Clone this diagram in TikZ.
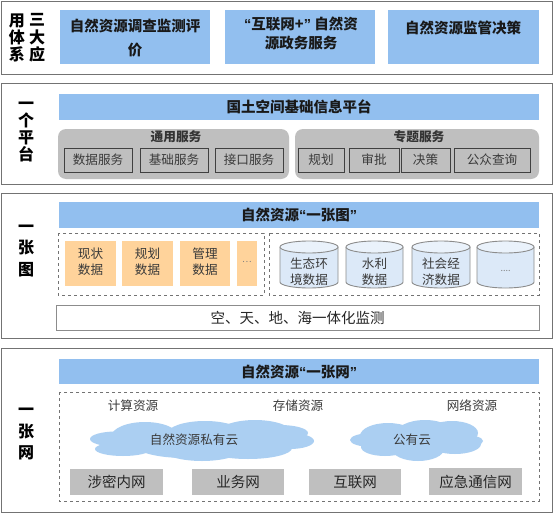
\documentclass[tikz,border=0pt]{standalone}
\usepackage{fontspec}
\setmainfont{Noto Sans CJK SC}
\newfontfamily\quotefont{Liberation Sans}
\usetikzlibrary{positioning}
\definecolor{barblue}{HTML}{92BFEF}
\definecolor{cloudblue}{HTML}{ABCFF2}
\definecolor{paleorange}{HTML}{FFD39B}
\definecolor{midgray}{HTML}{BFBFBF}
\definecolor{drumblue}{HTML}{DCE9F8}
\definecolor{inktext}{HTML}{3A3A3A}
\newcommand{\openq}{{\quotefont\bfseries “}}
\newcommand{\closeq}{{\quotefont\bfseries ”}}
\tikzset{
  panel/.style={draw=black!55, line width=0.9pt, fill=white},
  bluebar/.style={fill=barblue, draw=none},
  greypad/.style={fill=midgray, draw=none, rounded corners=8pt},
  svcbox/.style={fill=midgray, draw=black!75, line width=0.8pt},
  dashbox/.style={draw=black!55, line width=0.7pt, dashed},
  orangebox/.style={fill=paleorange, draw=none},
  netbox/.style={fill=midgray, draw=none},
  sidetext/.style={font=\fontsize{16}{17.3}\selectfont\bfseries, align=center, inner sep=0pt},
  widetext/.style={sidetext, font=\fontsize{16}{21.5}\selectfont\bfseries},
  titletext/.style={font=\fontsize{14.5}{19}\selectfont\bfseries, align=center, inner sep=0pt, text=black!90},
  subtext/.style={font=\fontsize{12.7}{16}\selectfont\bfseries, text=black!80, inner sep=0pt},
  smalltext/.style={font=\fontsize{12.6}{16}\selectfont, align=center, text=inktext, inner sep=0pt},
  nettext/.style={font=\fontsize{14.5}{18}\selectfont, text=black!85, inner sep=0pt},
  drumbody/.style={fill=drumblue, draw=black!45, line width=0.9pt},
  drumtop/.style={fill=drumblue!60, draw=black!45, line width=0.9pt},
  puff/.style={fill=cloudblue, draw=none}
}
\begin{document}
\begin{tikzpicture}[x=1pt, y=-1pt]
  \useasboundingbox (0,0) rectangle (554,514);
  \draw[panel] (1.5,1.5) rectangle (552,74);
  \draw[panel] (1.5,83) rectangle (552,184);
  \draw[panel] (1.5,193) rectangle (552,338);
  \draw[panel] (1.5,348) rectangle (552,512);

  \node[sidetext] (sideYong) at (17,38) {用\\体\\系};
  \node[sidetext] (sideSan) at (37,38) {三\\大\\应};
  \fill[bluebar] (60,10) rectangle (210,64);
  \fill[bluebar] (225,10) rectangle (375,64);
  \fill[bluebar] (388,10) rectangle (539,64);
  \node[titletext, font=\fontsize{14.5}{24}\selectfont\bfseries] (appSurvey) at (135,38) {自然资源调查监测评\\价};
  \node[titletext] (appGov) at (301,33) {\openq 互联网+\closeq\ 自然资\\源政务服务};
  \node[titletext] (appDecide) at (463,28) {自然资源监管决策};

  \node[sidetext] (sidePlatform) at (26,132) {一\\个\\平\\台};
  \draw[bluebar] (59,94) rectangle (539,120) node[midway, titletext] (barPlatform) {国土空间基础信息平台};
  \draw[greypad] (58,129) rectangle (289,179);
  \draw[greypad] (295,129) rectangle (539,179);
  \node[subtext] (commonSvc) at (176,137) {通用服务};
  \node[subtext] (topicSvc) at (419,137) {专题服务};
  \draw[svcbox] (64,148) rectangle (132,172) node[midway, smalltext] (svcData) {数据服务};
  \draw[svcbox] (140,148) rectangle (208,172) node[midway, smalltext] (svcBase) {基础服务};
  \draw[svcbox] (215,148) rectangle (283,172) node[midway, smalltext] (svcApi) {接口服务};
  \draw[svcbox] (298,148) rectangle (344,172) node[midway, smalltext] (svcPlan) {规划};
  \draw[svcbox] (349,148) rectangle (399,172) node[midway, smalltext] (svcApprove) {审批};
  \draw[svcbox] (401,148) rectangle (450,172) node[midway, smalltext] (svcDecide) {决策};
  \draw[svcbox] (454,148) rectangle (530,172) node[midway, smalltext] (svcPublic) {公众查询};

  \node[widetext] (sideMap) at (26,251) {一\\张\\图};
  \draw[bluebar] (59,202) rectangle (539,228) node[midway, titletext] (barMap) {自然资源\openq 一张图\closeq};
  \draw[dashbox] (58,233) rectangle (264,295);
  \draw[dashbox] (269,233) rectangle (539,295);
  \draw[orangebox] (65,241) rectangle (116,286) node[midway, smalltext, yshift=2pt] (dataNow) {现状\\数据};
  \draw[orangebox] (122,241) rectangle (173,286) node[midway, smalltext, yshift=2pt] (dataPlan) {规划\\数据};
  \draw[orangebox] (180,241) rectangle (230,286) node[midway, smalltext, yshift=2pt] (dataManage) {管理\\数据};
  \draw[orangebox] (237,241) rectangle (257,286) node[midway, smalltext, font=\fontsize{9}{10}\selectfont, text=black!50, yshift=2pt] (dataMore) {…};
  \draw[drumbody] (280,247) -- (280,282) arc[start angle=180, end angle=0, x radius=29, y radius=6] -- (338,247);
  \draw[drumtop] (309,247) ellipse [x radius=29, y radius=6];
  \draw[drumbody] (346,247) -- (346,282) arc[start angle=180, end angle=0, x radius=28.5, y radius=6] -- (403,247);
  \draw[drumtop] (374.5,247) ellipse [x radius=28.5, y radius=6];
  \draw[drumbody] (412,247) -- (412,282) arc[start angle=180, end angle=0, x radius=29, y radius=6] -- (470,247);
  \draw[drumtop] (441,247) ellipse [x radius=29, y radius=6];
  \draw[drumbody] (477,247) -- (477,282) arc[start angle=180, end angle=0, x radius=28.5, y radius=6] -- (534,247);
  \draw[drumtop] (505.5,247) ellipse [x radius=28.5, y radius=6];
  \node[smalltext] (txtEco) at (309,272) {生态环\\境数据};
  \node[smalltext] (txtWater) at (374.5,272) {水利\\数据};
  \node[smalltext] (txtSocial) at (441,272) {社会经\\济数据};
  \node[smalltext, font=\fontsize{9}{10}\selectfont, text=black!50] (txtMore) at (505.5,271) {....};
  \draw[panel, draw=black!45] (56,305) rectangle (539,330) node[midway, nettext] (monitor) {空、天、地、海一体化监测};

  \node[widetext] (sideNet) at (26,434) {一\\张\\网};
  \draw[bluebar] (59,359) rectangle (539,384) node[midway, titletext] (barNet) {自然资源\openq 一张网\closeq};
  \draw[dashbox] (59,392) rectangle (539,501);
  \node[smalltext] (resCompute) at (133,406) {计算资源};
  \node[smalltext] (resStore) at (298,406) {存储资源};
  \node[smalltext] (resNet) at (472,406) {网络资源};
  \fill[puff] (116,439) ellipse [x radius=26, y radius=7.5];
  \fill[puff] (123,449) ellipse [x radius=28, y radius=7];
  \fill[puff] (145,437) ellipse [x radius=34, y radius=15];
  \fill[puff] (185,445) ellipse [x radius=50, y radius=13];
  \fill[puff] (202,446) ellipse [x radius=44, y radius=15];
  \fill[puff] (205,434) ellipse [x radius=38, y radius=13];
  \fill[puff] (255,434) ellipse [x radius=38, y radius=14];
  \fill[puff] (248,448) ellipse [x radius=44, y radius=11];
  \fill[puff] (290,441) ellipse [x radius=24, y radius=8];
  \fill[puff] (280,433) ellipse [x radius=28, y radius=8];
  \fill[puff] (372,440) ellipse [x radius=22, y radius=7];
  \fill[puff] (385,447) ellipse [x radius=24, y radius=9];
  \fill[puff] (388,436) ellipse [x radius=28, y radius=13];
  \fill[puff] (418,449) ellipse [x radius=26, y radius=12];
  \fill[puff] (425,435) ellipse [x radius=30, y radius=15];
  \fill[puff] (452,433) ellipse [x radius=26, y radius=12];
  \fill[puff] (455,444) ellipse [x radius=26, y radius=10];
  \fill[puff] (465,441) ellipse [x radius=18, y radius=6];
  \node[smalltext] (txtPrivate) at (194,440) {自然资源私有云};
  \node[smalltext] (txtPublic) at (412,440) {公有云};
  \draw[netbox] (70,469) rectangle (163,495) node[midway, nettext] (netSecret) {涉密内网};
  \draw[netbox] (192,469) rectangle (284,495) node[midway, nettext] (netBiz) {业务网};
  \draw[netbox] (309,469) rectangle (401,495) node[midway, nettext] (netInternet) {互联网};
  \draw[netbox] (429,468) rectangle (522,495) node[midway, nettext] (netEmergency) {应急通信网};
\end{tikzpicture}
\end{document}
